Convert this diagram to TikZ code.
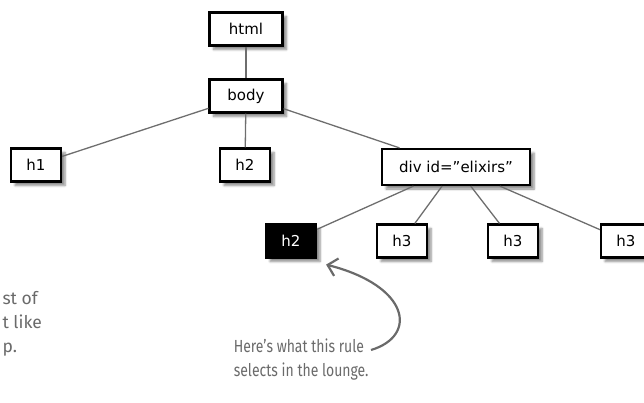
\documentclass[tikz,border=0pt]{standalone}
\usepackage{fontspec}
\setmainfont{DejaVu Sans}
\newfontfamily\notefont{Fira Sans}
\usetikzlibrary{arrows.meta, shadows.blur}
\definecolor{notegray}{HTML}{6A6A6A}
\definecolor{edgegray}{HTML}{6E6E6E}

\begin{document}
\begin{tikzpicture}[
            x=1pt, y=-1pt,
            box/.style={
                draw=black,
                fill=white,
                rectangle,
                minimum height=33pt,
                inner sep=2pt,
                line width=2.2pt,
                font=\fontsize{15}{18}\selectfont,
                blur shadow={shadow xshift=4pt, shadow yshift=-4pt,
                             shadow blur steps=6, shadow opacity=45}
            },
            tagbox/.style={box, minimum width=50pt},
            rootbox/.style={box, minimum width=73pt},
            divbox/.style={box, minimum width=148pt, minimum height=36pt},
            selbox/.style={tagbox, fill=black, text=white},
            edge/.style={draw=edgegray, line width=1.3pt},
            note/.style={text=notegray, align=left, font=\notefont\fontsize{17.5}{24}\selectfont},
            pointer/.style={draw=notegray, line width=2.2pt,
                            -{Straight Barb[length=9pt, width=18pt]}}
        ]
        \useasboundingbox (0,0) rectangle (644,403);
        \clip (0,0) rectangle (644,403);

        % tree
        \node[rootbox] (html) at (246, 29)  {html};
        \node[rootbox] (body) at (246, 96)  {body};
        \node[tagbox]  (hone) at (36, 165)  {h1};
        \node[tagbox]  (htwo) at (245, 165) {h2};
        \node[divbox]  (div)  at (456, 167) {div id="elixirs"};
        \node[selbox]  (sel)  at (291, 241) {h2};
        \node[tagbox]  (hta)  at (402, 241) {h3};
        \node[tagbox]  (htb)  at (513, 241) {h3};
        \node[tagbox]  (htc)  at (626, 241) {h3};

        \draw[edge] (html) -- (body);
        \draw[edge] (body) -- (hone);
        \draw[edge] (body) -- (htwo);
        \draw[edge] (body) -- (div);
        \draw[edge] (div) -- (sel);
        \draw[edge] (div) -- (hta);
        \draw[edge] (div) -- (htb);
        \draw[edge] (div) -- (htc);

        % notes
        \node[note, anchor=west] (cut)  at (-1, 324)  {st of\\t like\\p.};
        \node[note, anchor=west, xscale=0.8, transform shape] (rule) at (231, 360)
            {Here’s what this rule\\selects in the lounge.};
        \coordinate (tail) at (371, 350);
        \draw[pointer] (tail) .. controls (418, 336) and (410, 286) .. ([shift={(9,6)}]sel.south east);
        \end{tikzpicture}
\end{document}
